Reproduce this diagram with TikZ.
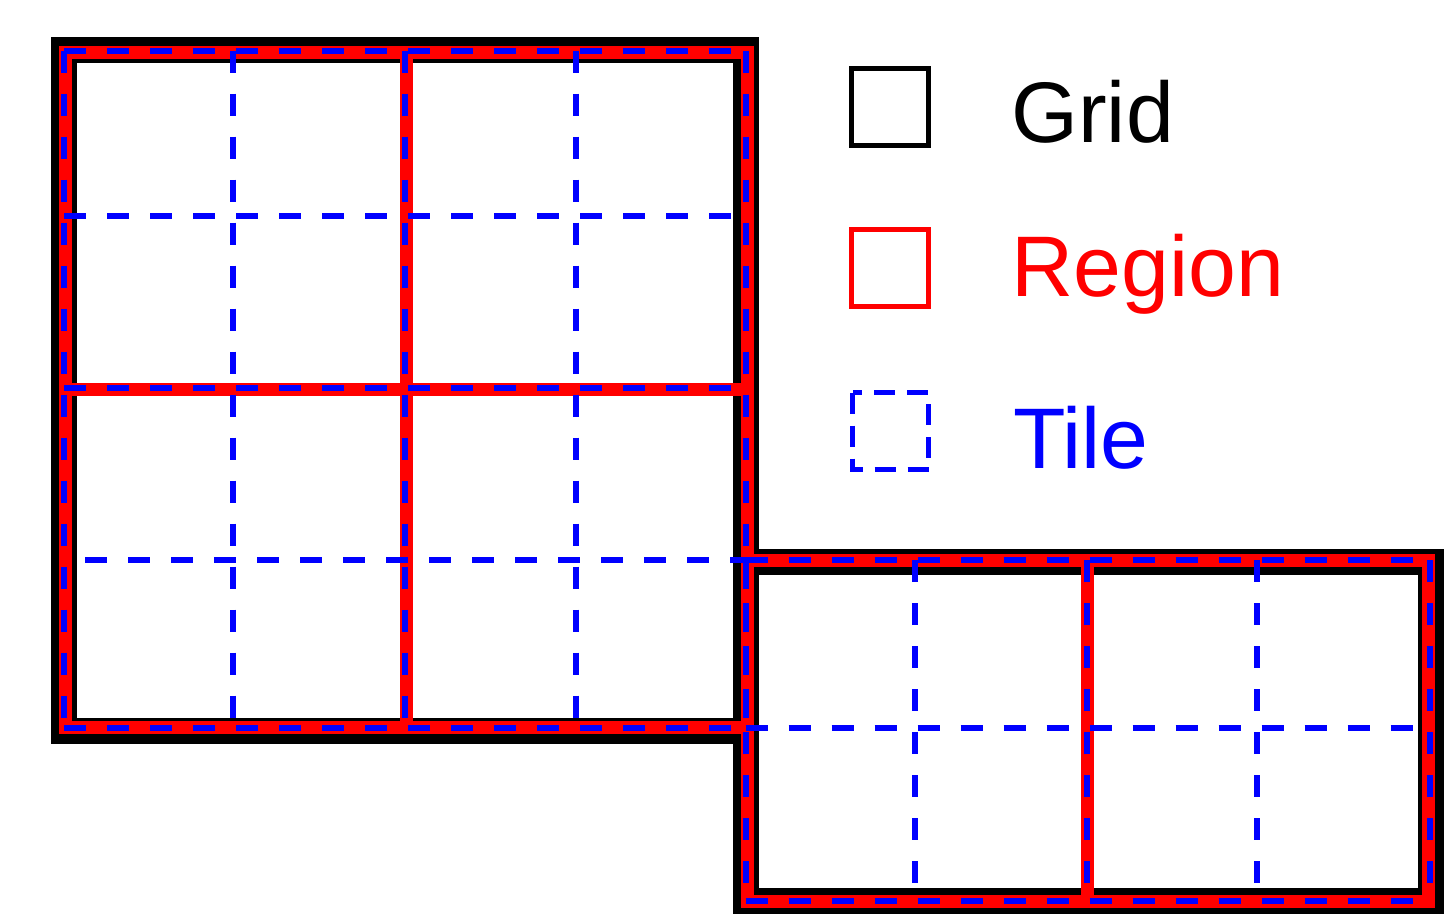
\documentclass[tikz,border=0pt]{standalone}
\usepackage{fontspec}
\setmainfont{Liberation Sans}
\begin{document}
\begin{tikzpicture}[x=0.5pt,y=-0.5pt,
  gridline/.style={line width=13pt,draw=black},
  regionline/.style={line width=6.5pt,draw=red},
  tileline/.style={line width=3pt,draw=blue,dash pattern=on 11pt off 10.5pt},
  leggrid/.style={line width=2.5pt,draw=black},
  legregion/.style={line width=2.5pt,draw=red},
  legtile/.style={line width=2.5pt,draw=blue,dash pattern=on 10.5pt off 6pt},
  legtext/.style={anchor=base west,inner sep=0pt,font=\fontsize{43}{50}\selectfont}]
\useasboundingbox (0,0) rectangle (1450,923);
% Grids (black outlines)
\draw[gridline] (64,50) rectangle (745.5,731);
\draw[gridline] (745.5,562) rectangle (1430.5,901);
% Regions (red)
\draw[regionline] (65.5,52) rectangle (747,727);
\draw[regionline] (406.5,52) -- (406.5,727);
\draw[regionline] (65.5,389) -- (747,389);
\draw[regionline] (747,560) rectangle (1428.5,901);
\draw[regionline] (1087,560) -- (1087,901);
% Tiles (blue dashed)
\foreach \y in {50.5,216,388,727.5}
  \draw[tileline] (64,\y) -- (745.5,\y);
\draw[tileline,dash phase=11pt] (64,560) -- (745.5,560);
\foreach \x in {64,233,405,576,745.5}
  \draw[tileline] (\x,50.5) -- (\x,727.5);
\foreach \y in {560,727.5,901}
  \draw[tileline] (745.5,\y) -- (1430,\y);
\foreach \x in {745.5,915,1087,1257,1430}
  \draw[tileline] (\x,560) -- (\x,901);
% Legend
\draw[leggrid] (851.5,68) rectangle (928.5,145);
\draw[legregion] (851.5,229.5) rectangle (928.5,306.5);
\draw[legtile] (852.5,392.5) rectangle (928.5,469.5);
\node[legtext,text=black] (tgrid) at (1011,142) {Grid};
\node[legtext,text=red] (tregion) at (1011,296) {Region};
\node[legtext,text=blue] (ttile) at (1013,468) {Tile};
\end{tikzpicture}
\end{document}
